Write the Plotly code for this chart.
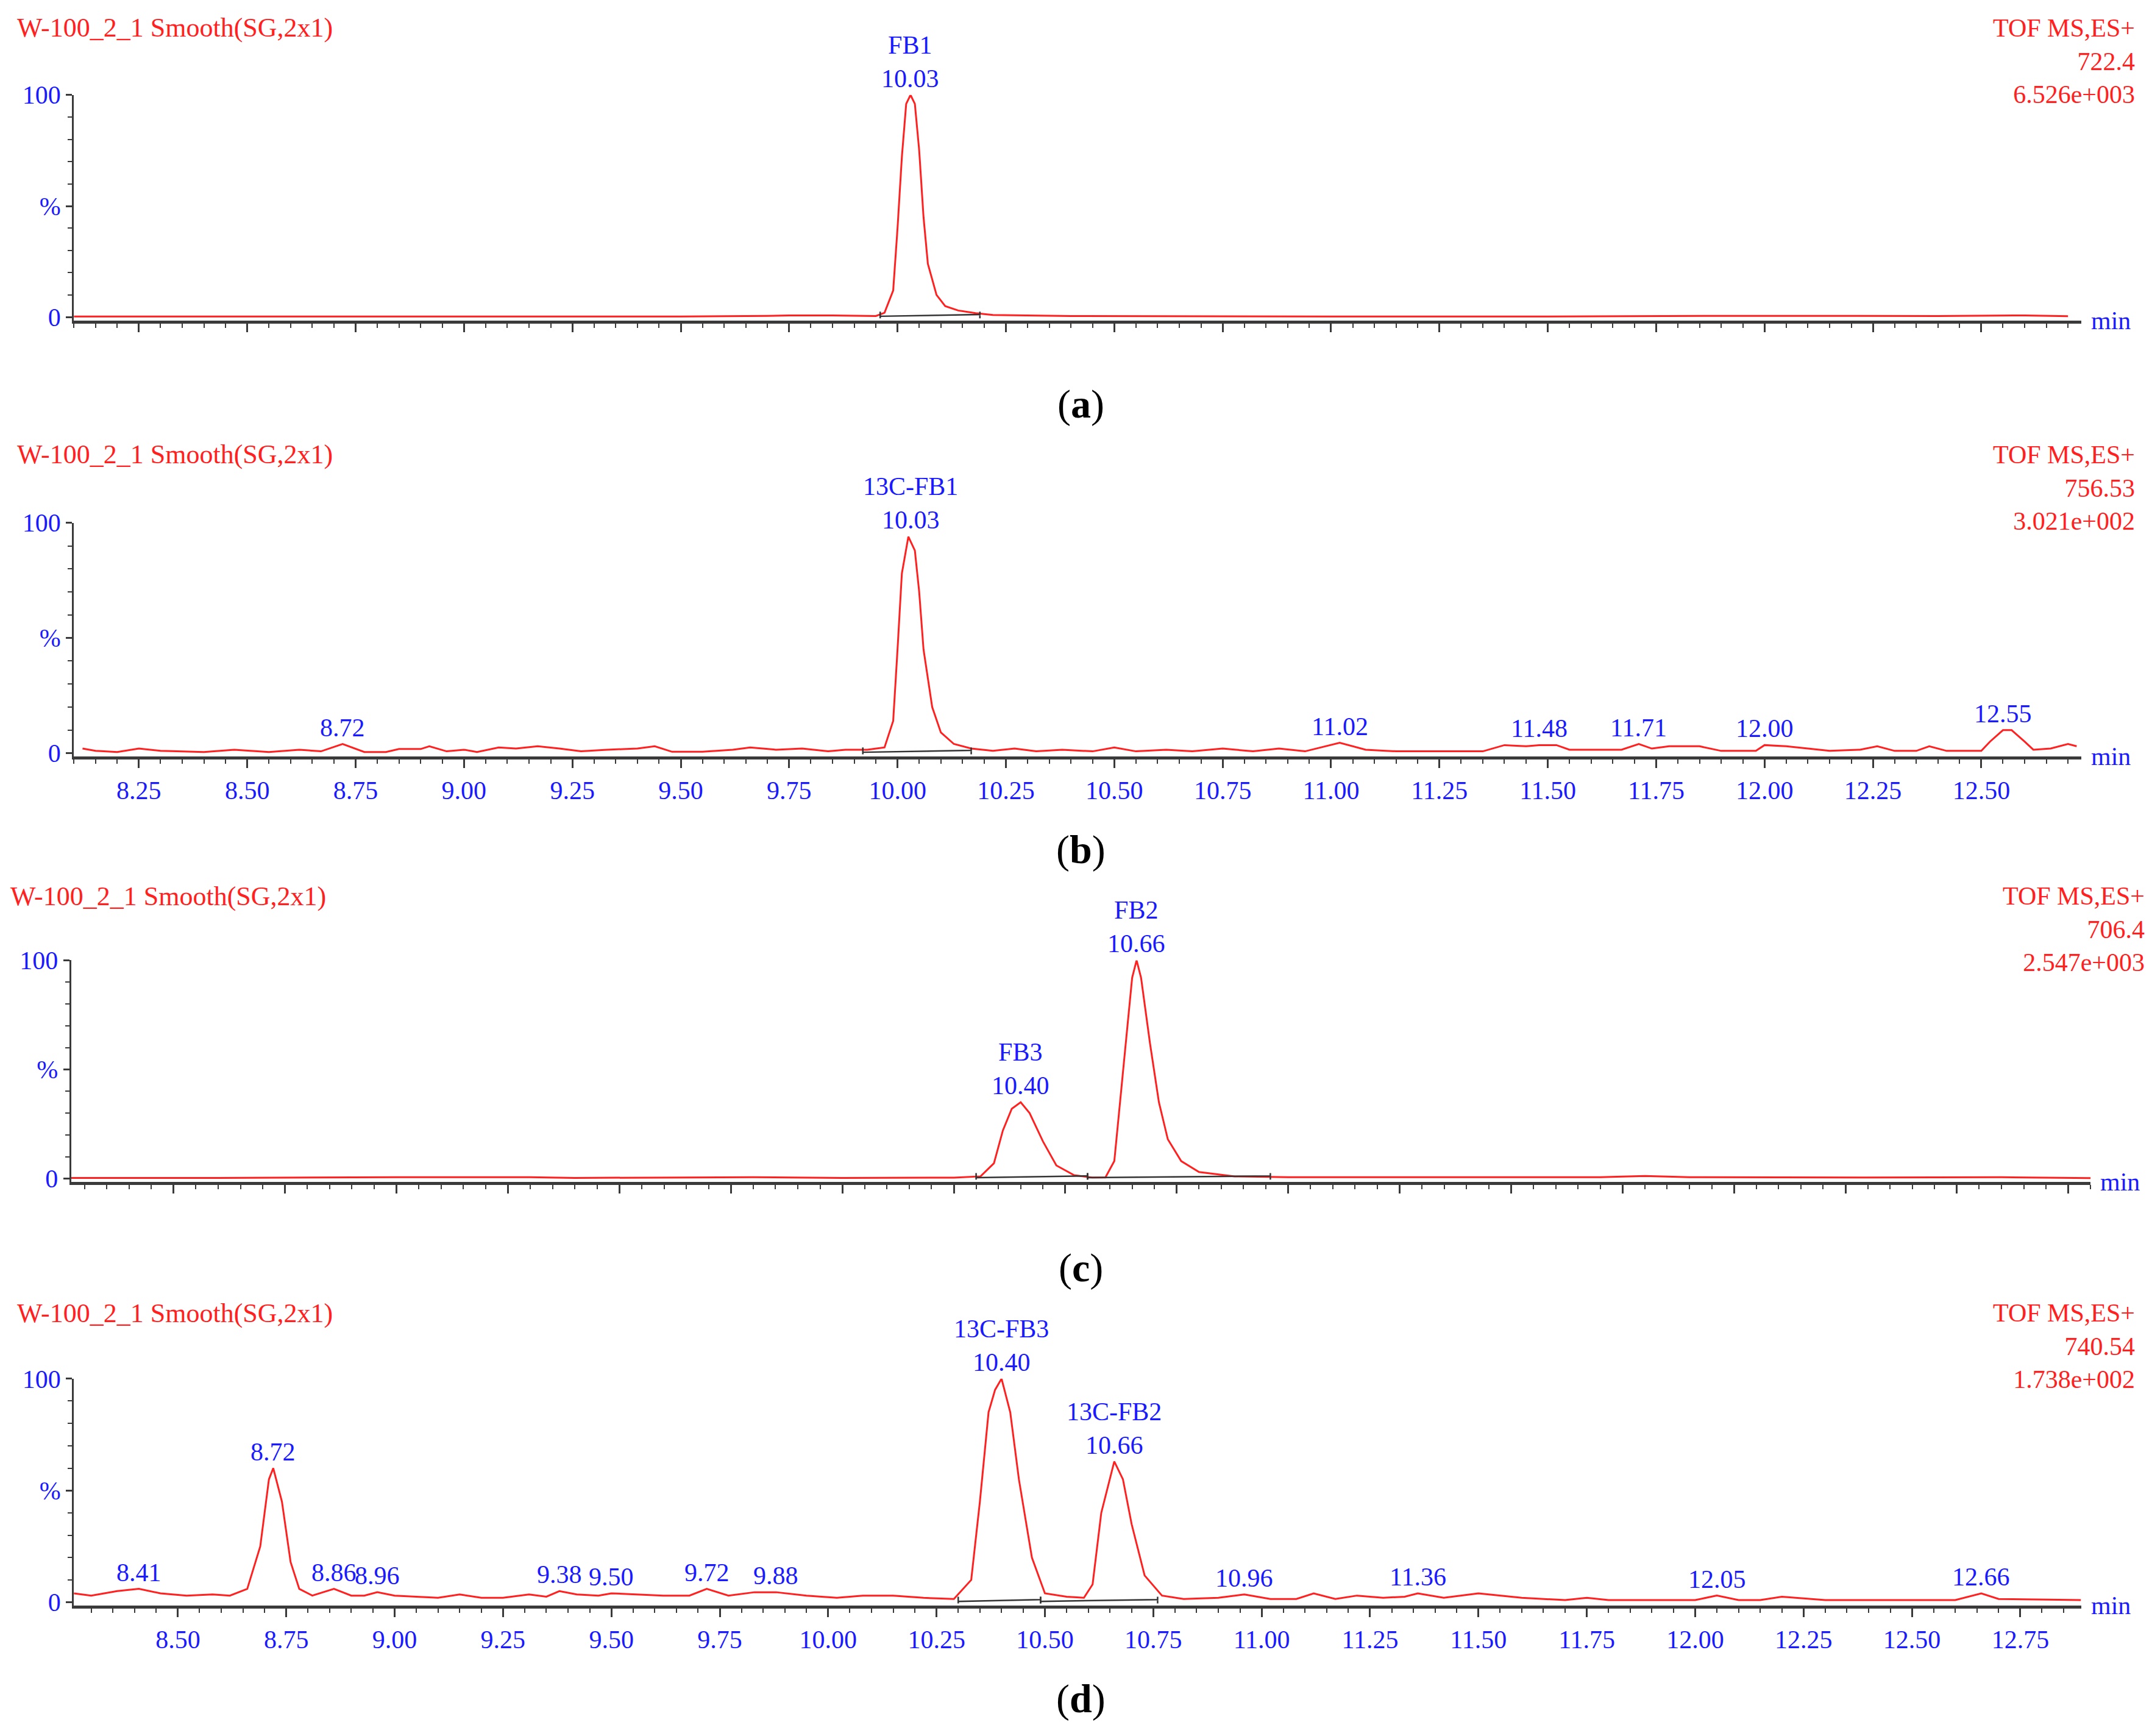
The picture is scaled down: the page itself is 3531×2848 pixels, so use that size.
import plotly.graph_objects as go

# ---- data (retention time in min, relative intensity in %) ----
a_t = [8.10, 8.50, 9.00, 9.50, 9.70, 9.75, 9.85, 9.95, 9.97, 9.99, 10.00, 10.01, 10.02, 10.03, 10.04, 10.05,
       10.06, 10.07, 10.09, 10.11, 10.14, 10.18, 10.22, 10.30, 10.40, 11.00, 11.50, 11.95, 12.00, 12.20,
       12.40, 12.60, 12.70]
a_y = [0.3, 0.3, 0.3, 0.3, 0.6, 0.8, 0.8, 0.5, 2, 12, 40, 72, 96, 100, 96, 75,
       45, 24, 10, 5, 3, 1.8, 1, 0.7, 0.5, 0.3, 0.3, 0.6, 0.6, 0.7,
       0.5, 0.8, 0.4]
a_labels = [("FB1", 10.03, 100)]
a_base = [[9.96, 10.19]]

b_t = [8.12, 8.15, 8.20, 8.25, 8.30, 8.40, 8.47, 8.55, 8.62, 8.67, 8.72, 8.77, 8.82, 8.85, 8.90, 8.92,
       8.96, 9.00, 9.03, 9.08, 9.12, 9.17, 9.22, 9.27, 9.33, 9.40, 9.44, 9.48, 9.55, 9.62, 9.66, 9.72,
       9.78, 9.84, 9.88, 9.93, 9.97, 9.99, 10.00, 10.01, 10.025, 10.04, 10.05, 10.06, 10.08, 10.10, 10.13, 10.17,
       10.22, 10.27, 10.32, 10.38, 10.45, 10.50, 10.55, 10.62, 10.68, 10.75, 10.82, 10.88, 10.94, 11.02,
       11.08, 11.15, 11.25, 11.35, 11.40, 11.45, 11.48, 11.52, 11.55, 11.62, 11.67, 11.71, 11.74, 11.78,
       11.85, 11.90, 11.98, 12.00, 12.05, 12.10, 12.15, 12.22, 12.26, 12.30, 12.35, 12.38, 12.42, 12.50,
       12.52, 12.55, 12.57, 12.60, 12.62, 12.66, 12.70, 12.72]
b_y = [2, 1, 0.5, 2, 1, 0.5, 1.5, 0.5, 1.5, 0.8, 4, 0.5, 0.5, 1.8, 1.8, 3,
       0.8, 1.5, 0.5, 2.5, 2, 3, 2, 0.8, 1.5, 2, 3, 0.6, 0.6, 1.5, 2.5, 1.5,
       2, 0.8, 1.5, 1.5, 2.5, 14, 45, 78, 94, 88, 70, 45, 20, 9, 4, 2,
       1, 2, 0.8, 1.5, 0.8, 2.5, 0.8, 1.5, 0.8, 2, 0.8, 2, 0.8, 4.5,
       1.5, 0.8, 0.8, 0.8, 3.5, 3, 3.5, 3.5, 1.5, 1.5, 1.5, 4, 2, 3,
       3, 1, 1, 3.5, 3, 2, 1, 1.5, 3, 1, 1, 3, 1, 1,
       5, 10, 10, 5, 1.5, 2, 4, 3]
b_labels = [("", 8.72, 4), ("13C-FB1", 10.03, 94), ("", 11.02, 4.5), ("", 11.48, 3.5),
            ("", 11.71, 4), ("", 12.00, 3.5), ("", 12.55, 10)]
b_base = [[9.92, 10.17]]

c_t = [8.27, 8.60, 9.00, 9.30, 9.40, 9.80, 10.00, 10.25, 10.31, 10.34, 10.36, 10.38, 10.40, 10.42, 10.45,
       10.48, 10.52, 10.56, 10.59, 10.61, 10.63, 10.65, 10.66, 10.67, 10.69, 10.71, 10.73, 10.76, 10.80, 10.88, 11.00,
       11.40, 11.70, 11.80, 11.90, 12.30, 12.60, 12.80]
c_y = [0.3, 0.3, 0.6, 0.6, 0.3, 0.6, 0.3, 0.4, 1, 7, 22, 32, 35, 30, 17,
       6, 1.5, 0.5, 0.5, 8, 50, 92, 100, 92, 62, 35, 18, 8, 3, 1, 0.6,
       0.5, 0.6, 1.2, 0.6, 0.5, 0.6, 0.2]
c_labels = [("FB3", 10.40, 35), ("FB2", 10.66, 100)]
c_base = [[10.30, 10.55], [10.55, 10.96]]

d_t = [8.26, 8.30, 8.36, 8.41, 8.46, 8.52, 8.58, 8.62, 8.66, 8.69, 8.71, 8.72, 8.74, 8.76, 8.78, 8.81,
       8.86, 8.90, 8.93, 8.96, 9.00, 9.05, 9.10, 9.15, 9.20, 9.25, 9.31, 9.35, 9.38, 9.42, 9.47, 9.50,
       9.55, 9.62, 9.68, 9.72, 9.77, 9.83, 9.88, 9.95, 10.02, 10.08, 10.15, 10.22, 10.29, 10.33, 10.35,
       10.37, 10.385, 10.40, 10.42, 10.44, 10.47, 10.50, 10.55, 10.59, 10.61, 10.63, 10.66, 10.68, 10.70,
       10.73, 10.77, 10.82, 10.90, 10.96, 11.02, 11.08, 11.12, 11.17, 11.22, 11.28, 11.33, 11.36, 11.42,
       11.50, 11.60, 11.70, 11.75, 11.80, 12.00, 12.05, 12.10, 12.15, 12.20, 12.30, 12.50, 12.60, 12.66,
       12.70, 12.89]
d_y = [4, 3, 5, 6, 4, 3, 3.5, 3, 6, 25, 55, 60, 45, 18, 6, 3,
       6, 3, 3, 4.5, 3, 2.5, 2, 3.5, 2, 2, 3.5, 2.5, 5, 3.5, 3, 4,
       3.5, 3, 3, 6, 3, 4.5, 4.5, 3, 2, 3, 3, 2, 1.5, 10, 45,
       85, 95, 100, 85, 55, 20, 4, 2.5, 2, 8, 40, 63, 55, 35,
       12, 3, 1.5, 2, 3.5, 1.5, 1.5, 4, 1.5, 3, 2, 2.5, 4, 2,
       4, 2, 1, 2, 1, 1, 3, 1, 1, 2.5, 1, 1, 1, 4,
       1.5, 1]
d_labels = [("", 8.41, 6), ("", 8.72, 60), ("", 8.86, 6), ("", 8.96, 4.5), ("", 9.38, 5), ("", 9.50, 4),
            ("", 9.72, 6), ("", 9.88, 4.5), ("13C-FB3", 10.40, 100), ("13C-FB2", 10.66, 63),
            ("", 10.96, 3.5), ("", 11.36, 4), ("", 12.05, 3), ("", 12.66, 4)]
d_base = [[10.30, 10.49], [10.49, 10.76]]

headers = [("722.4", "6.526e+003"), ("756.53", "3.021e+002"), ("706.4", "2.547e+003"), ("740.54", "1.738e+002")]
panel_names = ["a", "b", "c", "d"]
x_ranges = [[8.10, 12.73], [8.10, 12.73], [8.27, 12.80], [8.26, 12.89]]
show_xlabels = [False, True, False, True]

H = 1258.0
W = 1560.0
# display-pixel geometry of each panel: (x left, x right, y of 100, y of 0, y of header, y of caption)
geom = [(50, 1505, 67, 232, 18, 293), (50, 1505, 380, 551, 330, 619),
        (48, 1512, 700, 862, 653, 925), (50, 1505, 1006, 1172, 958, 1240)]


def py(v):
    # display y -> paper y, with a small correction measured against the first render
    v = v - (11 - 6 * v / 1240)
    return 1 - v / H


RED = "#ff2020"
BLUE = "#1a1aff"
FONT = "Liberation Serif"
FS = 42

panels = [(a_t, a_y, a_labels, a_base), (b_t, b_y, b_labels, b_base),
          (c_t, c_y, c_labels, c_base), (d_t, d_y, d_labels, d_base)]

fig = go.Figure()
annotations = []
layout = {}
for i, (t, y, labels, bases) in enumerate(panels):
    n = "" if i == 0 else str(i + 1)
    xl, xr, y100, y0, yh, yc = geom[i]
    xax, yax = "x" + n, "y" + n
    fig.add_trace(go.Scatter(x=t, y=y, mode="lines", line=dict(color=RED, width=3),
                             xaxis=xax, yaxis=yax, showlegend=False, hoverinfo="skip"))
    for b0, b1 in bases:
        fig.add_trace(go.Scatter(x=[b0, b0, b0, b1, b1, b1], y=[2.5, -0.5, 0.4, 1.2, 2.5, -0.5],
                                 mode="lines", line=dict(color="#333333", width=2.5),
                                 xaxis=xax, yaxis=yax, showlegend=False, hoverinfo="skip"))
    dom_x = [xl / W, xr / W]
    dom_y = [py(y0), py(y100)]
    layout["xaxis" + n] = dict(
        domain=dom_x, range=x_ranges[i], anchor=yax, showgrid=False, zeroline=False,
        showline=True, linecolor="#3a3a3a", linewidth=5, ticks="outside", ticklen=14,
        tickwidth=2.5, tickcolor="#3a3a3a", dtick=0.25, tick0=8.0, tickformat=".2f",
        showticklabels=show_xlabels[i], tickfont=dict(family=FONT, size=FS, color=BLUE),
        minor=dict(dtick=0.05, ticks="outside", ticklen=7, tickwidth=2, tickcolor="#3a3a3a"))
    layout["yaxis" + n] = dict(
        domain=dom_y, range=[-1.5, 100], anchor=xax, showgrid=False, zeroline=False,
        showline=True, linecolor="#3a3a3a", linewidth=3, ticks="outside", ticklen=10,
        tickwidth=2.5, tickcolor="#3a3a3a", tickvals=[0, 50, 100], ticktext=["0", "%", "100"],
        tickfont=dict(family=FONT, size=FS, color=BLUE),
        minor=dict(dtick=10, ticks="outside", ticklen=7, tickwidth=2, tickcolor="#3a3a3a"))
    for name, rt, h in labels:
        txt = f"{name}<br>{rt:.2f}" if name else f"{rt:.2f}"
        annotations.append(dict(x=rt, y=h, xref=xax, yref=yax, text=txt, showarrow=False,
                                yanchor="bottom", yshift=2, font=dict(family=FONT, size=FS, color=BLUE)))
    annotations.append(dict(x=dom_x[1] + 0.004, y=dom_y[0], xref="paper", yref="paper", text="min",
                            showarrow=False, xanchor="left", yanchor="middle",
                            font=dict(family=FONT, size=FS, color=BLUE)))
    annotations.append(dict(x=(8 if i != 2 else 3) / W, y=py(yh), xref="paper", yref="paper",
                            text="W-100_2_1 Smooth(SG,2x1)", showarrow=False, xanchor="left",
                            yanchor="middle", font=dict(family=FONT, size=FS + 2, color=RED)))
    rx = (1545 if i != 2 else 1552) / W
    annotations.append(dict(x=rx, y=py(yh - 11), xref="paper", yref="paper",
                            text="TOF MS,ES+<br>" + headers[i][0] + "<br>" + headers[i][1],
                            showarrow=False, xanchor="right", yanchor="top", align="right",
                            font=dict(family=FONT, size=FS, color=RED)))
    annotations.append(dict(x=780 / W, y=py(yc), xref="paper", yref="paper",
                            text=f"(<b>{panel_names[i]}</b>)", showarrow=False,
                            xanchor="center", yanchor="middle",
                            font=dict(family=FONT, size=66, color="black")))

fig.update_layout(width=3531, height=2848, margin=dict(l=0, r=0, t=0, b=0),
                  paper_bgcolor="white", plot_bgcolor="white", annotations=annotations, **layout)
fig.write_html("out.html")
